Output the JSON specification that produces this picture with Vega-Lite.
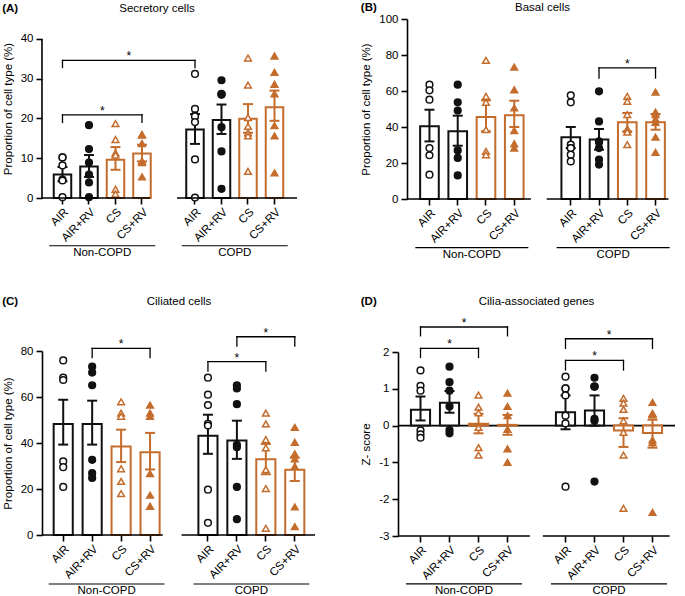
{
"$schema":"https://vega.github.io/schema/vega-lite/v6.json",
"padding":{"left":2,"top":1,"right":2,"bottom":1},
"background":"white",
"datasets":{
"grp":[{"g":"Non-COPD","a":"N|AIR","b":"N|CS+RV","m":"N|AIR+RV"},{"g":"COPD","a":"C|AIR","b":"C|CS+RV","m":"C|AIR+RV"}],
"brk":[
{"p":"A","a":"N|AIR","b":"C|AIR","y":34.6,"tip":32.8,"s":"N|CS","h":true},
{"p":"A","a":"N|AIR","b":"N|CS+RV","y":20.9,"tip":19.0,"s":"N|AIR+RV","h":true},
{"p":"B","a":"C|AIR+RV","b":"C|CS+RV","y":72.8,"tip":67.2,"s":"C|CS","h":false},
{"p":"C","a":"N|AIR+RV","b":"N|CS+RV","y":81.1,"tip":77.1,"s":"N|CS","h":false},
{"p":"C","a":"C|AIR","b":"C|CS","y":75.4,"tip":71.3,"s":"C|AIR+RV","h":false},
{"p":"C","a":"C|AIR+RV","b":"C|CS+RV","y":86.2,"tip":82.1,"s":"C|CS","h":false},
{"p":"D","a":"N|AIR","b":"N|CS+RV","y":2.68,"tip":2.44,"s":"N|AIR+RV","h":true},
{"p":"D","a":"N|AIR","b":"N|CS","y":2.10,"tip":1.85,"s":"N|AIR+RV","h":false},
{"p":"D","a":"C|AIR","b":"C|CS+RV","y":2.36,"tip":2.10,"s":"C|AIR+RV","h":true},
{"p":"D","a":"C|AIR","b":"C|CS","y":1.77,"tip":1.51,"s":"C|AIR+RV","h":false}
],
"bars":[
{"p":"A","k":"N|AIR","t":"AIR","m":5.9,"lo":4.2,"hi":7.8},
{"p":"A","k":"N|AIR+RV","t":"AIR+RV","m":7.9,"lo":5.3,"hi":10.8},
{"p":"A","k":"N|CS","t":"CS","m":9.6,"lo":7.1,"hi":12.8},
{"p":"A","k":"N|CS+RV","t":"CS+RV","m":11.2,"lo":9.2,"hi":13.4},
{"p":"A","k":"C|AIR","t":"AIR","m":17.2,"lo":13.6,"hi":21.1},
{"p":"A","k":"C|AIR+RV","t":"AIR+RV","m":19.6,"lo":16.1,"hi":23.5},
{"p":"A","k":"C|CS","t":"CS","m":19.9,"lo":16.4,"hi":23.6},
{"p":"A","k":"C|CS+RV","t":"CS+RV","m":22.8,"lo":19.4,"hi":27.0},
{"p":"B","k":"N|AIR","t":"AIR","m":40.4,"lo":32.0,"hi":49.6},
{"p":"B","k":"N|AIR+RV","t":"AIR+RV","m":37.6,"lo":29.6,"hi":46.3},
{"p":"B","k":"N|CS","t":"CS","m":45.6,"lo":37.6,"hi":54.8},
{"p":"B","k":"N|CS+RV","t":"CS+RV","m":46.5,"lo":40.0,"hi":54.6},
{"p":"B","k":"C|AIR","t":"AIR","m":34.3,"lo":28.3,"hi":40.0},
{"p":"B","k":"C|AIR+RV","t":"AIR+RV","m":33.0,"lo":27.4,"hi":38.9},
{"p":"B","k":"C|CS","t":"CS","m":42.6,"lo":37.6,"hi":47.8},
{"p":"B","k":"C|CS+RV","t":"CS+RV","m":42.6,"lo":38.5,"hi":47.2},
{"p":"C","k":"N|AIR","t":"AIR","m":48.3,"lo":39.3,"hi":58.8},
{"p":"C","k":"N|AIR+RV","t":"AIR+RV","m":48.3,"lo":39.3,"hi":58.4},
{"p":"C","k":"N|CS","t":"CS","m":38.5,"lo":31.7,"hi":45.8},
{"p":"C","k":"N|CS+RV","t":"CS+RV","m":36.0,"lo":28.5,"hi":44.4},
{"p":"C","k":"C|AIR","t":"AIR","m":43.2,"lo":35.3,"hi":52.3},
{"p":"C","k":"C|AIR+RV","t":"AIR+RV","m":41.1,"lo":33.1,"hi":49.7},
{"p":"C","k":"C|CS","t":"CS","m":32.9,"lo":26.4,"hi":39.6},
{"p":"C","k":"C|CS+RV","t":"CS+RV","m":28.4,"lo":23.5,"hi":33.6},
{"p":"D","k":"N|AIR","t":"AIR","m":0.43,"lo":0.14,"hi":0.79},
{"p":"D","k":"N|AIR+RV","t":"AIR+RV","m":0.62,"lo":0.35,"hi":0.94},
{"p":"D","k":"N|CS","t":"CS","m":0.05,"lo":-0.21,"hi":0.32},
{"p":"D","k":"N|CS+RV","t":"CS+RV","m":0.02,"lo":-0.25,"hi":0.29},
{"p":"D","k":"C|AIR","t":"AIR","m":0.36,"lo":-0.1,"hi":0.82},
{"p":"D","k":"C|AIR+RV","t":"AIR+RV","m":0.41,"lo":0.0,"hi":0.82},
{"p":"D","k":"C|CS","t":"CS","m":-0.13,"lo":-0.58,"hi":0.2},
{"p":"D","k":"C|CS+RV","t":"CS+RV","m":-0.2,"lo":-0.6,"hi":0.16}
],
"pts":[
{"p":"A","k":"N|AIR","t":"AIR","v":10.2},{"p":"A","k":"N|AIR","t":"AIR","v":10.2},{"p":"A","k":"N|AIR","t":"AIR","v":8.2},{"p":"A","k":"N|AIR","t":"AIR","v":4.6},{"p":"A","k":"N|AIR","t":"AIR","v":4.4},{"p":"A","k":"N|AIR","t":"AIR","v":0.2},
{"p":"A","k":"N|AIR+RV","t":"AIR+RV","v":18.3},{"p":"A","k":"N|AIR+RV","t":"AIR+RV","v":12.3},{"p":"A","k":"N|AIR+RV","t":"AIR+RV","v":8.9},{"p":"A","k":"N|AIR+RV","t":"AIR+RV","v":5.9},{"p":"A","k":"N|AIR+RV","t":"AIR+RV","v":3.9},{"p":"A","k":"N|AIR+RV","t":"AIR+RV","v":0.2},
{"p":"A","k":"N|CS","t":"CS","v":18.7},{"p":"A","k":"N|CS","t":"CS","v":14.7},{"p":"A","k":"N|CS","t":"CS","v":11.3},{"p":"A","k":"N|CS","t":"CS","v":10.8},{"p":"A","k":"N|CS","t":"CS","v":2.2},{"p":"A","k":"N|CS","t":"CS","v":1.0},
{"p":"A","k":"N|CS+RV","t":"CS+RV","v":15.9},{"p":"A","k":"N|CS+RV","t":"CS+RV","v":15.9},{"p":"A","k":"N|CS+RV","t":"CS+RV","v":13.7},{"p":"A","k":"N|CS+RV","t":"CS+RV","v":9.3},{"p":"A","k":"N|CS+RV","t":"CS+RV","v":8.9},{"p":"A","k":"N|CS+RV","t":"CS+RV","v":5.3},
{"p":"A","k":"C|AIR","t":"AIR","v":31.2},{"p":"A","k":"C|AIR","t":"AIR","v":22.4},{"p":"A","k":"C|AIR","t":"AIR","v":20.7},{"p":"A","k":"C|AIR","t":"AIR","v":20.5},{"p":"A","k":"C|AIR","t":"AIR","v":19.1},{"p":"A","k":"C|AIR","t":"AIR","v":9.7},{"p":"A","k":"C|AIR","t":"AIR","v":0.1},
{"p":"A","k":"C|AIR+RV","t":"AIR+RV","v":29.6},{"p":"A","k":"C|AIR+RV","t":"AIR+RV","v":26.0},{"p":"A","k":"C|AIR+RV","t":"AIR+RV","v":26.0},{"p":"A","k":"C|AIR+RV","t":"AIR+RV","v":26.2},{"p":"A","k":"C|AIR+RV","t":"AIR+RV","v":17.8},{"p":"A","k":"C|AIR+RV","t":"AIR+RV","v":11.7},{"p":"A","k":"C|AIR+RV","t":"AIR+RV","v":2.3},
{"p":"A","k":"C|CS","t":"CS","v":35.2},{"p":"A","k":"C|CS","t":"CS","v":28.4},{"p":"A","k":"C|CS","t":"CS","v":20.2},{"p":"A","k":"C|CS","t":"CS","v":18.0},{"p":"A","k":"C|CS","t":"CS","v":16.4},{"p":"A","k":"C|CS","t":"CS","v":15.6},{"p":"A","k":"C|CS","t":"CS","v":6.7},
{"p":"A","k":"C|CS+RV","t":"CS+RV","v":35.7},{"p":"A","k":"C|CS+RV","t":"CS+RV","v":31.6},{"p":"A","k":"C|CS+RV","t":"CS+RV","v":28.6},{"p":"A","k":"C|CS+RV","t":"CS+RV","v":26.2},{"p":"A","k":"C|CS+RV","t":"CS+RV","v":18.2},{"p":"A","k":"C|CS+RV","t":"CS+RV","v":15.6},{"p":"A","k":"C|CS+RV","t":"CS+RV","v":6.3},
{"p":"B","k":"N|AIR","t":"AIR","v":63.5},{"p":"B","k":"N|AIR","t":"AIR","v":60.4},{"p":"B","k":"N|AIR","t":"AIR","v":55.2},{"p":"B","k":"N|AIR","t":"AIR","v":28.3},{"p":"B","k":"N|AIR","t":"AIR","v":24.3},{"p":"B","k":"N|AIR","t":"AIR","v":13.5},
{"p":"B","k":"N|AIR+RV","t":"AIR+RV","v":63.5},{"p":"B","k":"N|AIR+RV","t":"AIR+RV","v":53.7},{"p":"B","k":"N|AIR+RV","t":"AIR+RV","v":49.1},{"p":"B","k":"N|AIR+RV","t":"AIR+RV","v":27.0},{"p":"B","k":"N|AIR+RV","t":"AIR+RV","v":22.8},{"p":"B","k":"N|AIR+RV","t":"AIR+RV","v":13.1},
{"p":"B","k":"N|CS","t":"CS","v":77.0},{"p":"B","k":"N|CS","t":"CS","v":57.0},{"p":"B","k":"N|CS","t":"CS","v":53.7},{"p":"B","k":"N|CS","t":"CS","v":38.5},{"p":"B","k":"N|CS","t":"CS","v":26.5},{"p":"B","k":"N|CS","t":"CS","v":24.6},
{"p":"B","k":"N|CS+RV","t":"CS+RV","v":73.3},{"p":"B","k":"N|CS+RV","t":"CS+RV","v":60.7},{"p":"B","k":"N|CS+RV","t":"CS+RV","v":50.6},{"p":"B","k":"N|CS+RV","t":"CS+RV","v":38.0},{"p":"B","k":"N|CS+RV","t":"CS+RV","v":30.7},{"p":"B","k":"N|CS+RV","t":"CS+RV","v":28.3},
{"p":"B","k":"C|AIR","t":"AIR","v":57.6},{"p":"B","k":"C|AIR","t":"AIR","v":53.7},{"p":"B","k":"C|AIR","t":"AIR","v":30.2},{"p":"B","k":"C|AIR","t":"AIR","v":28.3},{"p":"B","k":"C|AIR","t":"AIR","v":28.3},{"p":"B","k":"C|AIR","t":"AIR","v":24.6},{"p":"B","k":"C|AIR","t":"AIR","v":20.9},
{"p":"B","k":"C|AIR+RV","t":"AIR+RV","v":59.8},{"p":"B","k":"C|AIR+RV","t":"AIR+RV","v":43.1},{"p":"B","k":"C|AIR+RV","t":"AIR+RV","v":32.0},{"p":"B","k":"C|AIR+RV","t":"AIR+RV","v":31.5},{"p":"B","k":"C|AIR+RV","t":"AIR+RV","v":28.3},{"p":"B","k":"C|AIR+RV","t":"AIR+RV","v":21.9},{"p":"B","k":"C|AIR+RV","t":"AIR+RV","v":19.1},
{"p":"B","k":"C|CS","t":"CS","v":57.0},{"p":"B","k":"C|CS","t":"CS","v":54.3},{"p":"B","k":"C|CS","t":"CS","v":46.9},{"p":"B","k":"C|CS","t":"CS","v":38.9},{"p":"B","k":"C|CS","t":"CS","v":38.5},{"p":"B","k":"C|CS","t":"CS","v":37.2},{"p":"B","k":"C|CS","t":"CS","v":30.2},
{"p":"B","k":"C|CS+RV","t":"CS+RV","v":59.4},{"p":"B","k":"C|CS+RV","t":"CS+RV","v":48.3},{"p":"B","k":"C|CS+RV","t":"CS+RV","v":46.9},{"p":"B","k":"C|CS+RV","t":"CS+RV","v":44.4},{"p":"B","k":"C|CS+RV","t":"CS+RV","v":42.6},{"p":"B","k":"C|CS+RV","t":"CS+RV","v":34.4},{"p":"B","k":"C|CS+RV","t":"CS+RV","v":25.9},
{"p":"C","k":"N|AIR","t":"AIR","v":75.9},{"p":"C","k":"N|AIR","t":"AIR","v":68.4},{"p":"C","k":"N|AIR","t":"AIR","v":67.4},{"p":"C","k":"N|AIR","t":"AIR","v":32.0},{"p":"C","k":"N|AIR","t":"AIR","v":29.5},{"p":"C","k":"N|AIR","t":"AIR","v":20.9},
{"p":"C","k":"N|AIR+RV","t":"AIR+RV","v":73.2},{"p":"C","k":"N|AIR+RV","t":"AIR+RV","v":70.6},{"p":"C","k":"N|AIR+RV","t":"AIR+RV","v":65.1},{"p":"C","k":"N|AIR+RV","t":"AIR+RV","v":32.7},{"p":"C","k":"N|AIR+RV","t":"AIR+RV","v":26.9},{"p":"C","k":"N|AIR+RV","t":"AIR+RV","v":24.8},
{"p":"C","k":"N|CS","t":"CS","v":57.9},{"p":"C","k":"N|CS","t":"CS","v":53.0},{"p":"C","k":"N|CS","t":"CS","v":51.6},{"p":"C","k":"N|CS","t":"CS","v":28.8},{"p":"C","k":"N|CS","t":"CS","v":23.3},{"p":"C","k":"N|CS","t":"CS","v":18.0},
{"p":"C","k":"N|CS+RV","t":"CS+RV","v":56.5},{"p":"C","k":"N|CS+RV","t":"CS+RV","v":53.0},{"p":"C","k":"N|CS+RV","t":"CS+RV","v":51.6},{"p":"C","k":"N|CS+RV","t":"CS+RV","v":26.7},{"p":"C","k":"N|CS+RV","t":"CS+RV","v":17.3},{"p":"C","k":"N|CS+RV","t":"CS+RV","v":12.5},
{"p":"C","k":"C|AIR","t":"AIR","v":68.4},{"p":"C","k":"C|AIR","t":"AIR","v":61.0},{"p":"C","k":"C|AIR","t":"AIR","v":56.5},{"p":"C","k":"C|AIR","t":"AIR","v":48.3},{"p":"C","k":"C|AIR","t":"AIR","v":47.6},{"p":"C","k":"C|AIR","t":"AIR","v":19.7},{"p":"C","k":"C|AIR","t":"AIR","v":5.3},
{"p":"C","k":"C|AIR+RV","t":"AIR+RV","v":65.1},{"p":"C","k":"C|AIR+RV","t":"AIR+RV","v":63.7},{"p":"C","k":"C|AIR+RV","t":"AIR+RV","v":56.9},{"p":"C","k":"C|AIR+RV","t":"AIR+RV","v":39.2},{"p":"C","k":"C|AIR+RV","t":"AIR+RV","v":38.2},{"p":"C","k":"C|AIR+RV","t":"AIR+RV","v":20.9},{"p":"C","k":"C|AIR+RV","t":"AIR+RV","v":6.9},
{"p":"C","k":"C|CS","t":"CS","v":53.0},{"p":"C","k":"C|CS","t":"CS","v":48.3},{"p":"C","k":"C|CS","t":"CS","v":41.5},{"p":"C","k":"C|CS","t":"CS","v":37.9},{"p":"C","k":"C|CS","t":"CS","v":28.4},{"p":"C","k":"C|CS","t":"CS","v":20.2},{"p":"C","k":"C|CS","t":"CS","v":2.9},
{"p":"C","k":"C|CS+RV","t":"CS+RV","v":46.8},{"p":"C","k":"C|CS+RV","t":"CS+RV","v":40.3},{"p":"C","k":"C|CS+RV","t":"CS+RV","v":35.3},{"p":"C","k":"C|CS+RV","t":"CS+RV","v":33.1},{"p":"C","k":"C|CS+RV","t":"CS+RV","v":29.8},{"p":"C","k":"C|CS+RV","t":"CS+RV","v":12.2},{"p":"C","k":"C|CS+RV","t":"CS+RV","v":3.6},
{"p":"D","k":"N|AIR","t":"AIR","v":1.5},{"p":"D","k":"N|AIR","t":"AIR","v":1.08},{"p":"D","k":"N|AIR","t":"AIR","v":0.95},{"p":"D","k":"N|AIR","t":"AIR","v":-0.13},{"p":"D","k":"N|AIR","t":"AIR","v":-0.24},{"p":"D","k":"N|AIR","t":"AIR","v":-0.33},
{"p":"D","k":"N|AIR+RV","t":"AIR+RV","v":1.6},{"p":"D","k":"N|AIR+RV","t":"AIR+RV","v":1.18},{"p":"D","k":"N|AIR+RV","t":"AIR+RV","v":0.95},{"p":"D","k":"N|AIR+RV","t":"AIR+RV","v":0.52},{"p":"D","k":"N|AIR+RV","t":"AIR+RV","v":-0.12},{"p":"D","k":"N|AIR+RV","t":"AIR+RV","v":-0.21},
{"p":"D","k":"N|CS","t":"CS","v":0.83},{"p":"D","k":"N|CS","t":"CS","v":0.5},{"p":"D","k":"N|CS","t":"CS","v":0.35},{"p":"D","k":"N|CS","t":"CS","v":-0.05},{"p":"D","k":"N|CS","t":"CS","v":-0.6},{"p":"D","k":"N|CS","t":"CS","v":-0.8},
{"p":"D","k":"N|CS+RV","t":"CS+RV","v":0.88},{"p":"D","k":"N|CS+RV","t":"CS+RV","v":0.52},{"p":"D","k":"N|CS+RV","t":"CS+RV","v":0.27},{"p":"D","k":"N|CS+RV","t":"CS+RV","v":-0.1},{"p":"D","k":"N|CS+RV","t":"CS+RV","v":-0.63},{"p":"D","k":"N|CS+RV","t":"CS+RV","v":-1.0},
{"p":"D","k":"C|AIR","t":"AIR","v":1.33},{"p":"D","k":"C|AIR","t":"AIR","v":1.01},{"p":"D","k":"C|AIR","t":"AIR","v":1.01},{"p":"D","k":"C|AIR","t":"AIR","v":0.82},{"p":"D","k":"C|AIR","t":"AIR","v":0.27},{"p":"D","k":"C|AIR","t":"AIR","v":0.06},{"p":"D","k":"C|AIR","t":"AIR","v":-1.66},
{"p":"D","k":"C|AIR+RV","t":"AIR+RV","v":1.3},{"p":"D","k":"C|AIR+RV","t":"AIR+RV","v":1.06},{"p":"D","k":"C|AIR+RV","t":"AIR+RV","v":1.06},{"p":"D","k":"C|AIR+RV","t":"AIR+RV","v":1.06},{"p":"D","k":"C|AIR+RV","t":"AIR+RV","v":0.18},{"p":"D","k":"C|AIR+RV","t":"AIR+RV","v":0.13},{"p":"D","k":"C|AIR+RV","t":"AIR+RV","v":-1.52},
{"p":"D","k":"C|CS","t":"CS","v":0.74},{"p":"D","k":"C|CS","t":"CS","v":0.61},{"p":"D","k":"C|CS","t":"CS","v":0.44},{"p":"D","k":"C|CS","t":"CS","v":0.13},{"p":"D","k":"C|CS","t":"CS","v":-0.18},{"p":"D","k":"C|CS","t":"CS","v":-0.8},{"p":"D","k":"C|CS","t":"CS","v":-2.25},
{"p":"D","k":"C|CS+RV","t":"CS+RV","v":0.63},{"p":"D","k":"C|CS+RV","t":"CS+RV","v":0.31},{"p":"D","k":"C|CS+RV","t":"CS+RV","v":0.29},{"p":"D","k":"C|CS+RV","t":"CS+RV","v":0.33},{"p":"D","k":"C|CS+RV","t":"CS+RV","v":-0.39},{"p":"D","k":"C|CS+RV","t":"CS+RV","v":-0.46},{"p":"D","k":"C|CS+RV","t":"CS+RV","v":-2.36}
]
},
"concat":[
{"title":{"text":"(A)","anchor":"start","frame":"bounds","fontWeight":"bold","fontSize":11.5,"offset":-11.5},
"vconcat":[{
"title":{"text":"Secretory cells","offset":5,"dx":-17},
"width":264,"height":179,
"layer":[
{"data":{"name":"bars"},"transform":[{"filter":"datum.p=='A'"}],"mark":{"type":"bar","fill":"white","strokeWidth":2,"width":{"band":0.66}},"encoding":{"x":{"field":"k","type":"nominal","scale":{"domain":["N|AIR","N|AIR+RV","N|CS","N|CS+RV","gap","C|AIR","C|AIR+RV","C|CS","C|CS+RV"],"paddingInner":0,"paddingOuter":0.481,"align":0.284},"axis":{"values":["N|AIR","N|AIR+RV","N|CS","N|CS+RV","C|AIR","C|AIR+RV","C|CS","C|CS+RV"],"labelExpr":"split(datum.label,'|')[1]","labelAngle":-45,"domain":false,"title":null}},"y":{"field":"m","type":"quantitative","scale":{"domain":[0,43.13]},"axis":{"values":[0,10,20,30,40],"tickCount":5,"domain":false,"title":"Proportion of cell type (%)"}},"stroke":{"field":"t","type":"nominal","scale":{"domain":["AIR","AIR+RV","CS","CS+RV"],"range":["#111111","#111111","#C46C2C","#C46C2C"]},"legend":null}}},
{"data":{"values":[{}]},"mark":{"type":"rule","strokeWidth":1.6,"color":"black"},"encoding":{"x":{"datum":"N|AIR","type":"nominal","bandPosition":-0.274},"y":{"datum":0,"type":"quantitative"},"y2":{"datum":40}}},
{"data":{"name":"bars"},"transform":[{"filter":"datum.p=='A'"}],"mark":{"type":"rule","strokeWidth":2},"encoding":{"x":{"field":"k","type":"nominal"},"y":{"field":"lo","type":"quantitative"},"y2":{"field":"hi"},"stroke":{"field":"t","type":"nominal","legend":null}}},
{"data":{"name":"bars"},"transform":[{"filter":"datum.p=='A'"}],"mark":{"type":"tick","thickness":2,"size":10,"opacity":1},"encoding":{"x":{"field":"k","type":"nominal"},"y":{"field":"lo","type":"quantitative"},"color":{"field":"t","type":"nominal","scale":{"domain":["AIR","AIR+RV","CS","CS+RV"],"range":["#111111","#111111","#C46C2C","#C46C2C"]},"legend":null}}},
{"data":{"name":"bars"},"transform":[{"filter":"datum.p=='A'"}],"mark":{"type":"tick","thickness":2,"size":10,"opacity":1},"encoding":{"x":{"field":"k","type":"nominal"},"y":{"field":"hi","type":"quantitative"},"color":{"field":"t","type":"nominal","legend":null}}},
{"data":{"name":"pts"},"transform":[{"filter":"datum.p=='A'"}],"mark":{"type":"point","size":45,"strokeWidth":1.5,"opacity":1},"encoding":{"x":{"field":"k","type":"nominal"},"y":{"field":"v","type":"quantitative"},"shape":{"field":"t","type":"nominal","scale":{"domain":["AIR","AIR+RV","CS","CS+RV"],"range":["circle","circle","triangle-up","triangle-up"]},"legend":null},"fill":{"field":"t","type":"nominal","scale":{"domain":["AIR","AIR+RV","CS","CS+RV"],"range":["white","#111111","white","#C46C2C"]},"legend":null},"stroke":{"field":"t","type":"nominal","legend":null}}},
{"data":{"values":[{}]},"mark":{"type":"rule","strokeWidth":1.6,"color":"black"},"encoding":{"x":{"datum":"N|AIR","type":"nominal","bandPosition":-0.274},"x2":{"datum":"N|CS+RV","bandPosition":0.8},"y":{"datum":0,"type":"quantitative"}}},
{"data":{"values":[{}]},"mark":{"type":"rule","strokeWidth":1.6,"color":"black"},"encoding":{"x":{"datum":"C|AIR","type":"nominal","bandPosition":-0.18},"x2":{"datum":"C|CS+RV","bandPosition":1.35},"y":{"datum":0,"type":"quantitative"}}},
{"data":{"name":"grp"},"mark":{"type":"rule","strokeWidth":1.2,"color":"black"},"encoding":{"x":{"field":"a","type":"nominal","bandPosition":0},"x2":{"field":"b","bandPosition":1},"y":{"datum":-12.0,"type":"quantitative"}}},
{"data":{"name":"grp"},"mark":{"type":"text","baseline":"top","fontSize":11.5,"color":"black"},"encoding":{"x":{"field":"m","type":"nominal","bandPosition":1},"y":{"datum":-12.3,"type":"quantitative"},"text":{"field":"g"}}},
{"data":{"name":"brk"},"transform":[{"filter":"datum.p=='A'"}],"mark":{"type":"rule","strokeWidth":1.3,"color":"black","strokeCap":"square"},"encoding":{"x":{"field":"a","type":"nominal"},"x2":{"field":"b"},"y":{"field":"y","type":"quantitative"}}},
{"data":{"name":"brk"},"transform":[{"filter":"datum.p=='A'"}],"mark":{"type":"rule","strokeWidth":1.3,"color":"black","strokeCap":"square"},"encoding":{"x":{"field":"a","type":"nominal"},"y":{"field":"y","type":"quantitative"},"y2":{"field":"tip"}}},
{"data":{"name":"brk"},"transform":[{"filter":"datum.p=='A'"}],"mark":{"type":"rule","strokeWidth":1.3,"color":"black","strokeCap":"square"},"encoding":{"x":{"field":"b","type":"nominal"},"y":{"field":"y","type":"quantitative"},"y2":{"field":"tip"}}},
{"data":{"name":"brk"},"transform":[{"filter":"datum.p=='A' && !datum.h"}],"mark":{"type":"text","text":"*","fontSize":12,"color":"black","baseline":"alphabetic"},"encoding":{"x":{"field":"s","type":"nominal"},"y":{"field":"y","type":"quantitative"}}},
{"data":{"name":"brk"},"transform":[{"filter":"datum.p=='A' && datum.h"}],"mark":{"type":"text","text":"*","fontSize":12,"color":"black","baseline":"alphabetic"},"encoding":{"x":{"field":"s","type":"nominal","bandPosition":1},"y":{"field":"y","type":"quantitative"}}}
]}]},
{"title":{"text":"(B)","anchor":"start","frame":"bounds","fontWeight":"bold","fontSize":11.5,"offset":-11.5},
"vconcat":[{
"title":{"text":"Basal cells","offset":0},
"width":271,"height":180,
"layer":[
{"data":{"name":"bars"},"transform":[{"filter":"datum.p=='B'"}],"mark":{"type":"bar","fill":"white","strokeWidth":2,"width":{"band":0.66}},"encoding":{"x":{"field":"k","type":"nominal","scale":{"domain":["N|AIR","N|AIR+RV","N|CS","N|CS+RV","gap","C|AIR","C|AIR+RV","C|CS","C|CS+RV"],"paddingInner":0,"paddingOuter":0.295},"axis":{"values":["N|AIR","N|AIR+RV","N|CS","N|CS+RV","C|AIR","C|AIR+RV","C|CS","C|CS+RV"],"labelExpr":"split(datum.label,'|')[1]","labelAngle":-45,"domain":false,"title":null}},"y":{"field":"m","type":"quantitative","scale":{"domain":[0,100]},"axis":{"values":[0,20,40,60,80,100],"tickCount":6,"title":"Proportion of cell type (%)"}},"stroke":{"field":"t","type":"nominal","scale":{"domain":["AIR","AIR+RV","CS","CS+RV"],"range":["#111111","#111111","#C46C2C","#C46C2C"]},"legend":null}}},
{"data":{"name":"bars"},"transform":[{"filter":"datum.p=='B'"}],"mark":{"type":"rule","strokeWidth":2},"encoding":{"x":{"field":"k","type":"nominal"},"y":{"field":"lo","type":"quantitative"},"y2":{"field":"hi"},"stroke":{"field":"t","type":"nominal","legend":null}}},
{"data":{"name":"bars"},"transform":[{"filter":"datum.p=='B'"}],"mark":{"type":"tick","thickness":2,"size":10,"opacity":1},"encoding":{"x":{"field":"k","type":"nominal"},"y":{"field":"lo","type":"quantitative"},"color":{"field":"t","type":"nominal","scale":{"domain":["AIR","AIR+RV","CS","CS+RV"],"range":["#111111","#111111","#C46C2C","#C46C2C"]},"legend":null}}},
{"data":{"name":"bars"},"transform":[{"filter":"datum.p=='B'"}],"mark":{"type":"tick","thickness":2,"size":10,"opacity":1},"encoding":{"x":{"field":"k","type":"nominal"},"y":{"field":"hi","type":"quantitative"},"color":{"field":"t","type":"nominal","legend":null}}},
{"data":{"name":"pts"},"transform":[{"filter":"datum.p=='B'"}],"mark":{"type":"point","size":45,"strokeWidth":1.5,"opacity":1},"encoding":{"x":{"field":"k","type":"nominal"},"y":{"field":"v","type":"quantitative"},"shape":{"field":"t","type":"nominal","scale":{"domain":["AIR","AIR+RV","CS","CS+RV"],"range":["circle","circle","triangle-up","triangle-up"]},"legend":null},"fill":{"field":"t","type":"nominal","scale":{"domain":["AIR","AIR+RV","CS","CS+RV"],"range":["white","#111111","white","#C46C2C"]},"legend":null},"stroke":{"field":"t","type":"nominal","legend":null}}},
{"data":{"values":[{}]},"mark":{"type":"rule","strokeWidth":1.6,"color":"black"},"encoding":{"x":{"datum":"N|AIR","type":"nominal","bandPosition":-0.295},"x2":{"datum":"N|CS+RV","bandPosition":1.09},"y":{"datum":0,"type":"quantitative"}}},
{"data":{"values":[{}]},"mark":{"type":"rule","strokeWidth":1.6,"color":"black"},"encoding":{"x":{"datum":"C|AIR","type":"nominal","bandPosition":-0.35},"x2":{"datum":"C|CS+RV","bandPosition":0.96},"y":{"datum":0,"type":"quantitative"}}},
{"data":{"name":"grp"},"mark":{"type":"rule","strokeWidth":1.2,"color":"black"},"encoding":{"x":{"field":"a","type":"nominal","bandPosition":0},"x2":{"field":"b","bandPosition":1},"y":{"datum":-27.0,"type":"quantitative"}}},
{"data":{"name":"grp"},"mark":{"type":"text","baseline":"top","fontSize":11.5,"color":"black"},"encoding":{"x":{"field":"m","type":"nominal","bandPosition":1},"y":{"datum":-27.6,"type":"quantitative"},"text":{"field":"g"}}},
{"data":{"name":"brk"},"transform":[{"filter":"datum.p=='B'"}],"mark":{"type":"rule","strokeWidth":1.3,"color":"black","strokeCap":"square"},"encoding":{"x":{"field":"a","type":"nominal"},"x2":{"field":"b"},"y":{"field":"y","type":"quantitative"}}},
{"data":{"name":"brk"},"transform":[{"filter":"datum.p=='B'"}],"mark":{"type":"rule","strokeWidth":1.3,"color":"black","strokeCap":"square"},"encoding":{"x":{"field":"a","type":"nominal"},"y":{"field":"y","type":"quantitative"},"y2":{"field":"tip"}}},
{"data":{"name":"brk"},"transform":[{"filter":"datum.p=='B'"}],"mark":{"type":"rule","strokeWidth":1.3,"color":"black","strokeCap":"square"},"encoding":{"x":{"field":"b","type":"nominal"},"y":{"field":"y","type":"quantitative"},"y2":{"field":"tip"}}},
{"data":{"name":"brk"},"transform":[{"filter":"datum.p=='B' && !datum.h"}],"mark":{"type":"text","text":"*","fontSize":12,"color":"black","baseline":"alphabetic"},"encoding":{"x":{"field":"s","type":"nominal"},"y":{"field":"y","type":"quantitative"}}},
{"data":{"name":"brk"},"transform":[{"filter":"datum.p=='B' && datum.h"}],"mark":{"type":"text","text":"*","fontSize":12,"color":"black","baseline":"alphabetic"},"encoding":{"x":{"field":"s","type":"nominal","bandPosition":1},"y":{"field":"y","type":"quantitative"}}}
]}]},
{"title":{"text":"(C)","anchor":"start","frame":"bounds","fontWeight":"bold","fontSize":11.5,"offset":-11.5},
"vconcat":[{
"title":{"text":"Ciliated cells","offset":19},
"width":274,"height":184,
"layer":[
{"data":{"name":"bars"},"transform":[{"filter":"datum.p=='C'"}],"mark":{"type":"bar","fill":"white","strokeWidth":2,"width":{"band":0.66}},"encoding":{"x":{"field":"k","type":"nominal","scale":{"domain":["N|AIR","N|AIR+RV","N|CS","N|CS+RV","gap","C|AIR","C|AIR+RV","C|CS","C|CS+RV"],"paddingInner":0,"paddingOuter":0.233},"axis":{"values":["N|AIR","N|AIR+RV","N|CS","N|CS+RV","C|AIR","C|AIR+RV","C|CS","C|CS+RV"],"labelExpr":"split(datum.label,'|')[1]","labelAngle":-45,"domain":false,"title":null}},"y":{"field":"m","type":"quantitative","scale":{"domain":[0,80]},"axis":{"values":[0,20,40,60,80],"tickCount":5,"title":"Proportion of cell type (%)"}},"stroke":{"field":"t","type":"nominal","scale":{"domain":["AIR","AIR+RV","CS","CS+RV"],"range":["#111111","#111111","#C46C2C","#C46C2C"]},"legend":null}}},
{"data":{"name":"bars"},"transform":[{"filter":"datum.p=='C'"}],"mark":{"type":"rule","strokeWidth":2},"encoding":{"x":{"field":"k","type":"nominal"},"y":{"field":"lo","type":"quantitative"},"y2":{"field":"hi"},"stroke":{"field":"t","type":"nominal","legend":null}}},
{"data":{"name":"bars"},"transform":[{"filter":"datum.p=='C'"}],"mark":{"type":"tick","thickness":2,"size":10,"opacity":1},"encoding":{"x":{"field":"k","type":"nominal"},"y":{"field":"lo","type":"quantitative"},"color":{"field":"t","type":"nominal","scale":{"domain":["AIR","AIR+RV","CS","CS+RV"],"range":["#111111","#111111","#C46C2C","#C46C2C"]},"legend":null}}},
{"data":{"name":"bars"},"transform":[{"filter":"datum.p=='C'"}],"mark":{"type":"tick","thickness":2,"size":10,"opacity":1},"encoding":{"x":{"field":"k","type":"nominal"},"y":{"field":"hi","type":"quantitative"},"color":{"field":"t","type":"nominal","legend":null}}},
{"data":{"name":"pts"},"transform":[{"filter":"datum.p=='C'"}],"mark":{"type":"point","size":45,"strokeWidth":1.5,"opacity":1},"encoding":{"x":{"field":"k","type":"nominal"},"y":{"field":"v","type":"quantitative"},"shape":{"field":"t","type":"nominal","scale":{"domain":["AIR","AIR+RV","CS","CS+RV"],"range":["circle","circle","triangle-up","triangle-up"]},"legend":null},"fill":{"field":"t","type":"nominal","scale":{"domain":["AIR","AIR+RV","CS","CS+RV"],"range":["white","#111111","white","#C46C2C"]},"legend":null},"stroke":{"field":"t","type":"nominal","legend":null}}},
{"data":{"values":[{}]},"mark":{"type":"rule","strokeWidth":1.6,"color":"black"},"encoding":{"x":{"datum":"N|AIR","type":"nominal","bandPosition":-0.233},"x2":{"datum":"N|CS+RV","bandPosition":0.94},"y":{"datum":0,"type":"quantitative"}}},
{"data":{"values":[{}]},"mark":{"type":"rule","strokeWidth":1.6,"color":"black"},"encoding":{"x":{"datum":"C|AIR","type":"nominal","bandPosition":-0.41},"x2":{"datum":"C|CS+RV","bandPosition":1.2},"y":{"datum":0,"type":"quantitative"}}},
{"data":{"name":"grp"},"mark":{"type":"rule","strokeWidth":1.2,"color":"black"},"encoding":{"x":{"field":"a","type":"nominal","bandPosition":0},"x2":{"field":"b","bandPosition":1},"y":{"datum":-21.3,"type":"quantitative"}}},
{"data":{"name":"grp"},"mark":{"type":"text","baseline":"top","fontSize":11.5,"color":"black"},"encoding":{"x":{"field":"m","type":"nominal","bandPosition":1},"y":{"datum":-21.8,"type":"quantitative"},"text":{"field":"g"}}},
{"data":{"name":"brk"},"transform":[{"filter":"datum.p=='C'"}],"mark":{"type":"rule","strokeWidth":1.3,"color":"black","strokeCap":"square"},"encoding":{"x":{"field":"a","type":"nominal"},"x2":{"field":"b"},"y":{"field":"y","type":"quantitative"}}},
{"data":{"name":"brk"},"transform":[{"filter":"datum.p=='C'"}],"mark":{"type":"rule","strokeWidth":1.3,"color":"black","strokeCap":"square"},"encoding":{"x":{"field":"a","type":"nominal"},"y":{"field":"y","type":"quantitative"},"y2":{"field":"tip"}}},
{"data":{"name":"brk"},"transform":[{"filter":"datum.p=='C'"}],"mark":{"type":"rule","strokeWidth":1.3,"color":"black","strokeCap":"square"},"encoding":{"x":{"field":"b","type":"nominal"},"y":{"field":"y","type":"quantitative"},"y2":{"field":"tip"}}},
{"data":{"name":"brk"},"transform":[{"filter":"datum.p=='C' && !datum.h"}],"mark":{"type":"text","text":"*","fontSize":12,"color":"black","baseline":"alphabetic"},"encoding":{"x":{"field":"s","type":"nominal"},"y":{"field":"y","type":"quantitative"}}},
{"data":{"name":"brk"},"transform":[{"filter":"datum.p=='C' && datum.h"}],"mark":{"type":"text","text":"*","fontSize":12,"color":"black","baseline":"alphabetic"},"encoding":{"x":{"field":"s","type":"nominal","bandPosition":1},"y":{"field":"y","type":"quantitative"}}}
]}]},
{"title":{"text":"(D)","anchor":"start","frame":"bounds","fontWeight":"bold","fontSize":11.5,"offset":-11.5},
"vconcat":[{
"title":{"text":"Cilia-associated genes","offset":9},
"width":277,"height":184,
"layer":[
{"data":{"values":[{}]},"mark":{"type":"rule","strokeWidth":1.6,"color":"black"},"encoding":{"y":{"datum":0,"type":"quantitative","scale":{"domain":[-3,2]},"axis":{"values":[-3,-2,-1,0,1,2],"tickCount":6,"title":"Z- score","labelExpr":"replace(datum.label,'\u2212','-')"}}}},
{"data":{"name":"bars"},"transform":[{"filter":"datum.p=='D'"}],"mark":{"type":"bar","fill":"white","strokeWidth":2,"width":{"band":0.66}},"encoding":{"x":{"field":"k","type":"nominal","scale":{"domain":["N|AIR","N|AIR+RV","N|CS","N|CS+RV","gap","C|AIR","C|AIR+RV","C|CS","C|CS+RV"],"paddingInner":0,"paddingOuter":0.276},"axis":{"values":["N|AIR","N|AIR+RV","N|CS","N|CS+RV","C|AIR","C|AIR+RV","C|CS","C|CS+RV"],"labelExpr":"split(datum.label,'|')[1]","labelAngle":-45,"domain":false,"title":null}},"y":{"field":"m","type":"quantitative"},"stroke":{"field":"t","type":"nominal","scale":{"domain":["AIR","AIR+RV","CS","CS+RV"],"range":["#111111","#111111","#C46C2C","#C46C2C"]},"legend":null}}},
{"data":{"name":"bars"},"transform":[{"filter":"datum.p=='D'"}],"mark":{"type":"rule","strokeWidth":2},"encoding":{"x":{"field":"k","type":"nominal"},"y":{"field":"lo","type":"quantitative"},"y2":{"field":"hi"},"stroke":{"field":"t","type":"nominal","legend":null}}},
{"data":{"name":"bars"},"transform":[{"filter":"datum.p=='D'"}],"mark":{"type":"tick","thickness":2,"size":10,"opacity":1},"encoding":{"x":{"field":"k","type":"nominal"},"y":{"field":"lo","type":"quantitative"},"color":{"field":"t","type":"nominal","scale":{"domain":["AIR","AIR+RV","CS","CS+RV"],"range":["#111111","#111111","#C46C2C","#C46C2C"]},"legend":null}}},
{"data":{"name":"bars"},"transform":[{"filter":"datum.p=='D'"}],"mark":{"type":"tick","thickness":2,"size":10,"opacity":1},"encoding":{"x":{"field":"k","type":"nominal"},"y":{"field":"hi","type":"quantitative"},"color":{"field":"t","type":"nominal","legend":null}}},
{"data":{"name":"pts"},"transform":[{"filter":"datum.p=='D'"}],"mark":{"type":"point","size":45,"strokeWidth":1.5,"opacity":1},"encoding":{"x":{"field":"k","type":"nominal"},"y":{"field":"v","type":"quantitative"},"shape":{"field":"t","type":"nominal","scale":{"domain":["AIR","AIR+RV","CS","CS+RV"],"range":["circle","circle","triangle-up","triangle-up"]},"legend":null},"fill":{"field":"t","type":"nominal","scale":{"domain":["AIR","AIR+RV","CS","CS+RV"],"range":["white","#111111","white","#C46C2C"]},"legend":null},"stroke":{"field":"t","type":"nominal","legend":null}}},
{"data":{"values":[{}]},"mark":{"type":"rule","strokeWidth":1.6,"color":"black"},"encoding":{"x":{"datum":"N|AIR","type":"nominal","bandPosition":-0.276},"x2":{"datum":"N|CS+RV","bandPosition":1.27},"y":{"datum":-3,"type":"quantitative"}}},
{"data":{"values":[{}]},"mark":{"type":"rule","strokeWidth":1.6,"color":"black"},"encoding":{"x":{"datum":"C|AIR","type":"nominal","bandPosition":-0.28},"x2":{"datum":"C|CS+RV","bandPosition":1.09},"y":{"datum":-3,"type":"quantitative"}}},
{"data":{"name":"grp"},"mark":{"type":"rule","strokeWidth":1.2,"color":"black"},"encoding":{"x":{"field":"a","type":"nominal","bandPosition":0},"x2":{"field":"b","bandPosition":1},"y":{"datum":-4.30,"type":"quantitative"}}},
{"data":{"name":"grp"},"mark":{"type":"text","baseline":"top","fontSize":11.5,"color":"black"},"encoding":{"x":{"field":"m","type":"nominal","bandPosition":1},"y":{"datum":-4.33,"type":"quantitative"},"text":{"field":"g"}}},
{"data":{"name":"brk"},"transform":[{"filter":"datum.p=='D'"}],"mark":{"type":"rule","strokeWidth":1.3,"color":"black","strokeCap":"square"},"encoding":{"x":{"field":"a","type":"nominal"},"x2":{"field":"b"},"y":{"field":"y","type":"quantitative"}}},
{"data":{"name":"brk"},"transform":[{"filter":"datum.p=='D'"}],"mark":{"type":"rule","strokeWidth":1.3,"color":"black","strokeCap":"square"},"encoding":{"x":{"field":"a","type":"nominal"},"y":{"field":"y","type":"quantitative"},"y2":{"field":"tip"}}},
{"data":{"name":"brk"},"transform":[{"filter":"datum.p=='D'"}],"mark":{"type":"rule","strokeWidth":1.3,"color":"black","strokeCap":"square"},"encoding":{"x":{"field":"b","type":"nominal"},"y":{"field":"y","type":"quantitative"},"y2":{"field":"tip"}}},
{"data":{"name":"brk"},"transform":[{"filter":"datum.p=='D' && !datum.h"}],"mark":{"type":"text","text":"*","fontSize":12,"color":"black","baseline":"alphabetic"},"encoding":{"x":{"field":"s","type":"nominal"},"y":{"field":"y","type":"quantitative"}}},
{"data":{"name":"brk"},"transform":[{"filter":"datum.p=='D' && datum.h"}],"mark":{"type":"text","text":"*","fontSize":12,"color":"black","baseline":"alphabetic"},"encoding":{"x":{"field":"s","type":"nominal","bandPosition":1},"y":{"field":"y","type":"quantitative"}}}
]}]}
],
"columns":2,
"align":"none",
"spacing":{"row":35,"column":44},
"config":{
"font":"Liberation Sans",
"view":{"stroke":null},
"axis":{"grid":false,"labelOverlap":false,"labelFontSize":11.5,"titleFontSize":11.5,"labelColor":"black","titleColor":"black","titleFontWeight":"normal","domainColor":"black","domainWidth":1.6,"tickColor":"black","tickWidth":1.6,"tickSize":6},
"axisY":{"labelPadding":3,"titlePadding":7},
"axisX":{"labelPadding":2},
"title":{"fontSize":11.5,"fontWeight":"normal","color":"black"}
}
}
